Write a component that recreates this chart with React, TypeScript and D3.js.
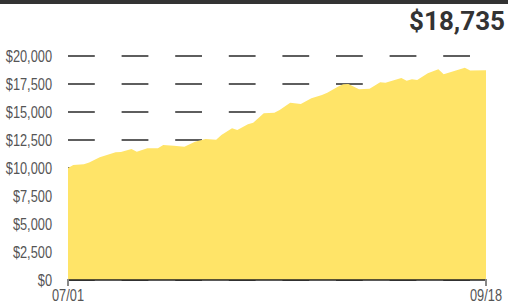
import * as d3 from 'd3';

const dates = [
  '2024-07-01', '2024-07-02', '2024-07-04', '2024-07-05', '2024-07-07', '2024-07-10',
  '2024-07-11', '2024-07-13', '2024-07-14', '2024-07-16', '2024-07-18', '2024-07-19',
  '2024-07-21', '2024-07-23', '2024-07-25', '2024-07-27', '2024-07-29', '2024-07-30',
  '2024-08-01', '2024-08-02', '2024-08-04', '2024-08-05', '2024-08-07', '2024-08-09',
  '2024-08-10', '2024-08-12', '2024-08-14', '2024-08-16', '2024-08-18', '2024-08-19',
  '2024-08-21', '2024-08-22', '2024-08-23', '2024-08-25', '2024-08-27', '2024-08-29',
  '2024-08-30', '2024-09-02', '2024-09-03', '2024-09-04', '2024-09-05', '2024-09-07',
  '2024-09-09', '2024-09-10', '2024-09-12', '2024-09-14', '2024-09-15', '2024-09-18',
];
const balance = [
  10000, 10270, 10330, 10500, 10950, 11400,
  11430, 11700, 11450, 11760, 11760, 12050,
  11980, 11900, 12350, 12590, 12520, 12950,
  13540, 13390, 13900, 14050, 14880, 14940,
  15180, 15830, 15710, 16220, 16520, 16720,
  17260, 17470, 17500, 17030, 17080, 17650,
  17620, 18040, 17800, 17920, 17860, 18450,
  18810, 18370, 18660, 18960, 18700, 18735,
];
const yTicks = [0, 2500, 5000, 7500, 10000, 12500, 15000, 17500, 20000];
const xTickLabels = ['07/01', '09/18'];

const width = 508;
const height = 304;
const margin = { left: 68, right: 22, top: 56, bottom: 24 };

// no narrow font installed, so squeeze the sans a little
const narrow = 'scale(0.8,1)';
const labelFont = "'Liberation Sans', Arial, sans-serif";

export default function App() {
  const parse = d3.timeParse('%Y-%m-%d');
  const data = dates.map((d, i) => ({ date: parse(d) as Date, value: balance[i] }));

  const x = d3
    .scaleTime()
    .domain(d3.extent(data, (d) => d.date) as [Date, Date])
    .range([margin.left, width - margin.right]);
  const y = d3
    .scaleLinear()
    .domain([0, 20000])
    .range([height - margin.bottom, margin.top]);

  const area = d3
    .area<{ date: Date; value: number }>()
    .x((d) => x(d.date))
    .y0(y(0))
    .y1((d) => y(d.value));

  const fmt = d3.format('$,');
  const [x0, x1] = x.range();
  const last = balance[balance.length - 1];

  return (
    <svg
      width={width}
      height={height}
      style={{ position: 'absolute', left: 0, top: 0 }}
    >
      <rect x={0} y={0} width={width} height={4} fill="#333" />
      <text
        x={505}
        y={30}
        textAnchor="end"
        fontFamily="Roboto, sans-serif"
        fontWeight="bold"
        fontSize={26}
        fill="#333"
      >
        {fmt(last)}
      </text>

      {/* dashed grid, drawn under the area */}
      {yTicks.map((t) => (
        <line
          key={'g' + t}
          x1={x0}
          x2={x1}
          y1={y(t)}
          y2={y(t)}
          stroke="#2a2a2a"
          strokeWidth={1.5}
          strokeDasharray="26.8 26.8"
        />
      ))}

      <path d={area(data) ?? ''} fill="#ffe468" />

      {yTicks.map((t) => (
        <g key={'l' + t} transform={`translate(52,${y(t)})`}>
          <text
            transform={narrow}
            dy="0.36em"
            textAnchor="end"
            fontFamily={labelFont}
            fontSize={16}
            fill="#555"
          >
            {fmt(t)}
          </text>
        </g>
      ))}

      <line x1={x0} x2={x1} y1={y(0)} y2={y(0)} stroke="#222" strokeWidth={1.5} />
      {[x0, x1].map((px, i) => (
        <g key={'t' + i}>
          <line x1={px} x2={px} y1={y(0) - 1} y2={y(0) + 6} stroke="#888" strokeWidth={2} />
          <g transform={`translate(${px},301)`}>
            <text
              transform={narrow}
              textAnchor="middle"
              fontFamily={labelFont}
              fontSize={16}
              fill="#555"
            >
              {xTickLabels[i]}
            </text>
          </g>
        </g>
      ))}
    </svg>
  );
}
